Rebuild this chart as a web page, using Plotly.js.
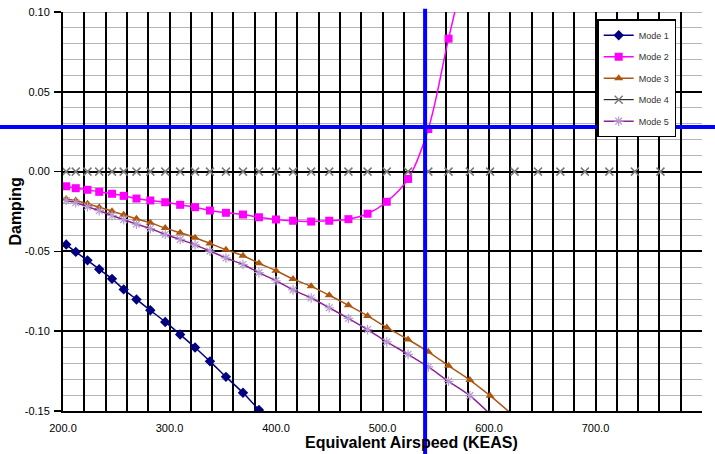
<!DOCTYPE html>
<html><head><meta charset="utf-8">
<script src="https://cdn.plot.ly/plotly-3.0.1.min.js"></script>
<style>html,body{margin:0;padding:0;background:#fff;}#chart{width:715px;height:454px;}</style>
</head><body><div id="chart"></div>
<script>
// Equivalent airspeed samples (KEAS)
const airspeed = [203, 212, 223, 234, 246, 257, 269, 282, 296, 310, 324, 338, 353, 369, 384, 400, 416, 433, 450, 468, 486, 504, 524, 543, 562, 582, 601, 624, 646, 667, 690, 713, 737, 761];
const mode1 = [-0.0457, -0.0503, -0.0556, -0.0612, -0.0672, -0.0738, -0.0801, -0.0869, -0.0942, -0.1021, -0.1102, -0.1189, -0.1286, -0.1386, -0.1494];
const mode2 = [-0.0092, -0.0104, -0.0114, -0.0127, -0.0139, -0.0152, -0.0169, -0.0181, -0.0192, -0.0208, -0.0223, -0.0244, -0.0258, -0.0269, -0.0286, -0.0300, -0.0308, -0.0313, -0.0308, -0.0298, -0.0264, -0.0189, -0.0046, 0.0267, 0.0833, 0.1400];
const mode3 = [-0.0171, -0.0181, -0.0202, -0.0223, -0.0248, -0.0271, -0.0296, -0.0321, -0.0354, -0.0383, -0.0414, -0.0450, -0.0490, -0.0527, -0.0574, -0.0621, -0.0673, -0.0719, -0.0775, -0.0838, -0.0904, -0.0977, -0.1052, -0.1129, -0.1217, -0.1306, -0.1404, -0.1535];
const mode4 = [0.000, 0.000, 0.000, 0.000, 0.000, 0.000, 0.000, 0.000, 0.000, 0.000, 0.000, 0.000, 0.000, 0.000, 0.000, 0.000, 0.000, 0.000, 0.000, 0.000, 0.000, 0.000, 0.000, 0.000, 0.000, 0.000, 0.000, 0.000, 0.000, 0.000, 0.000, 0.000, 0.000, 0.000];
const mode5 = [-0.0181, -0.0195, -0.0220, -0.0245, -0.0275, -0.0301, -0.0329, -0.0357, -0.0393, -0.0425, -0.0459, -0.0498, -0.0541, -0.0582, -0.0633, -0.0684, -0.0741, -0.0792, -0.0853, -0.0920, -0.0990, -0.1067, -0.1145, -0.1224, -0.1314, -0.1404, -0.1520];
const seriesNames = ['Mode 1', 'Mode 2', 'Mode 3', 'Mode 4', 'Mode 5'];
// Flutter reference lines
const flutterSpeed = 540;
const flutterDamping = 0.028;
// Tick labels (x: a grid line every 20 KEAS, labelled every 100)
const xTickVals = [200, 220, 240, 260, 280, 300, 320, 340, 360, 380, 400, 420, 440, 460, 480, 500, 520, 540, 560, 580, 600, 620, 640, 660, 680, 700, 720, 740, 760, 780, 800];
const xTickText = ['200.0', '', '', '', '', '300.0', '', '', '', '', '400.0', '', '', '', '', '500.0', '', '', '', '', '600.0', '', '', '', '', '700.0', '', '', '', '', '800.0'];
const yTickVals = [-0.15, -0.10, -0.05, 0.00, 0.05, 0.10];
const yTickText = ['-0.15', '-0.10', '-0.05', '0.00', '0.05', '0.10'];
const yMinorTickVals = [-0.14, -0.13, -0.12, -0.11, -0.09, -0.08, -0.07, -0.06, -0.04, -0.03, -0.02, -0.01, 0.01, 0.02, 0.03, 0.04, 0.06, 0.07, 0.08, 0.09];
const xTitle = 'Equivalent Airspeed (KEAS)';
const yTitle = 'Damping';

const FONT = 'Liberation Sans, Arial, sans-serif';

function series(vals, name, color, symbol, mcolor, shape, group, extra) {
  const t = {
    type: 'scatter', mode: 'lines+markers', name: name, legendgroup: group,
    x: airspeed.slice(0, vals.length), y: vals,
    line: {color: color, width: 1.5, shape: shape},
    marker: {symbol: symbol, size: 8, color: mcolor}
  };
  return Object.assign(t, extra || {});
}

const traces = [
  series(mode1, seriesNames[0], '#000080', 'diamond', '#000080', 'spline', 'g1'),
  series(mode2, seriesNames[1], '#ff00ff', 'square', '#ff00ff', 'spline', 'g2'),
  series(mode3, seriesNames[2], '#a8581a', 'triangle-up', '#b0560c', 'spline', 'g3'),
  series(mode4, seriesNames[3], '#000000', 'x-thin-open', '#7a7a7a', 'linear', 'g4',
         {line: {color: '#000000', width: 1}, marker: {symbol: 'x-thin-open', size: 8, color: '#7a7a7a', line: {width: 1.5}}}),
  series(mode5, seriesNames[4], '#8a2592', 'asterisk-open', '#b69ad2', 'spline', 'g5',
         {marker: {symbol: 'asterisk-open', size: 8, color: '#b69ad2', line: {width: 1.2}}})
];

const yTop = yTickVals[yTickVals.length - 1];

const layout = {
  width: 715, height: 454,
  margin: {l: 63, r: 13, t: 12, b: 43, pad: 0},
  paper_bgcolor: '#ffffff', plot_bgcolor: '#ffffff',
  font: {family: FONT, color: '#000'},
  showlegend: true,
  legend: {x: 0.836, y: 0.982, xanchor: 'left', yanchor: 'top', bgcolor: '#ffffff',
           bordercolor: '#000', borderwidth: 1.5, tracegroupgap: 2.5,
           font: {family: FONT, size: 9, color: '#333'}},
  xaxis: {
    range: [200, 800], tickmode: 'array', tickvals: xTickVals, ticktext: xTickText,
    showgrid: true, gridcolor: '#000', gridwidth: 2,
    showline: true, linecolor: '#000', linewidth: 2, ticks: '', ticklabelstandoff: 6,
    tickfont: {family: FONT, size: 11, color: '#000'}, zeroline: false, automargin: false
  },
  yaxis: {
    range: [-0.15, 0.10], tickmode: 'array', tickvals: yTickVals, ticktext: yTickText,
    showgrid: true, gridcolor: '#000', gridwidth: 2,
    minor: {tickmode: 'array', tickvals: yMinorTickVals, showgrid: true, gridcolor: '#b4b4b4', gridwidth: 1, ticks: ''},
    showline: true, linecolor: '#000', linewidth: 2, ticks: 'outside', ticklen: 7, tickwidth: 1.5, tickcolor: '#000',
    ticklabelstandoff: 2,
    tickfont: {family: FONT, size: 11, color: '#000'}, zeroline: true, zerolinecolor: '#000', zerolinewidth: 2,
    automargin: false
  },
  annotations: [{
    text: xTitle, xref: 'paper', yref: 'paper', x: 0.546, y: -0.08, xanchor: 'center', yanchor: 'middle',
    showarrow: false, font: {family: FONT, size: 16, weight: 'bold', color: '#000'}
  }, {
    text: yTitle, xref: 'paper', yref: 'paper', x: -0.075, y: 0.5, xanchor: 'center', yanchor: 'middle',
    textangle: -90, showarrow: false, font: {family: FONT, size: 16, weight: 'bold', color: '#000'}
  }],
  shapes: [
    {type: 'line', xref: 'paper', yref: 'y', x0: 0, x1: 1, y0: yTop, y1: yTop,
     line: {color: '#b4b4b4', width: 2}, layer: 'between'},
    {type: 'line', xref: 'paper', yref: 'y', x0: -0.2, x1: 1.2, y0: flutterDamping, y1: flutterDamping,
     line: {color: '#0000ff', width: 4}, layer: 'above'},
    {type: 'line', xref: 'x', yref: 'paper', x0: flutterSpeed, x1: flutterSpeed, y0: -0.2, y1: 1.008,
     line: {color: '#0000ff', width: 4}, layer: 'above'}
  ]
};

Plotly.newPlot('chart', traces, layout, {displayModeBar: false, staticPlot: true});
</script>
</body></html>
